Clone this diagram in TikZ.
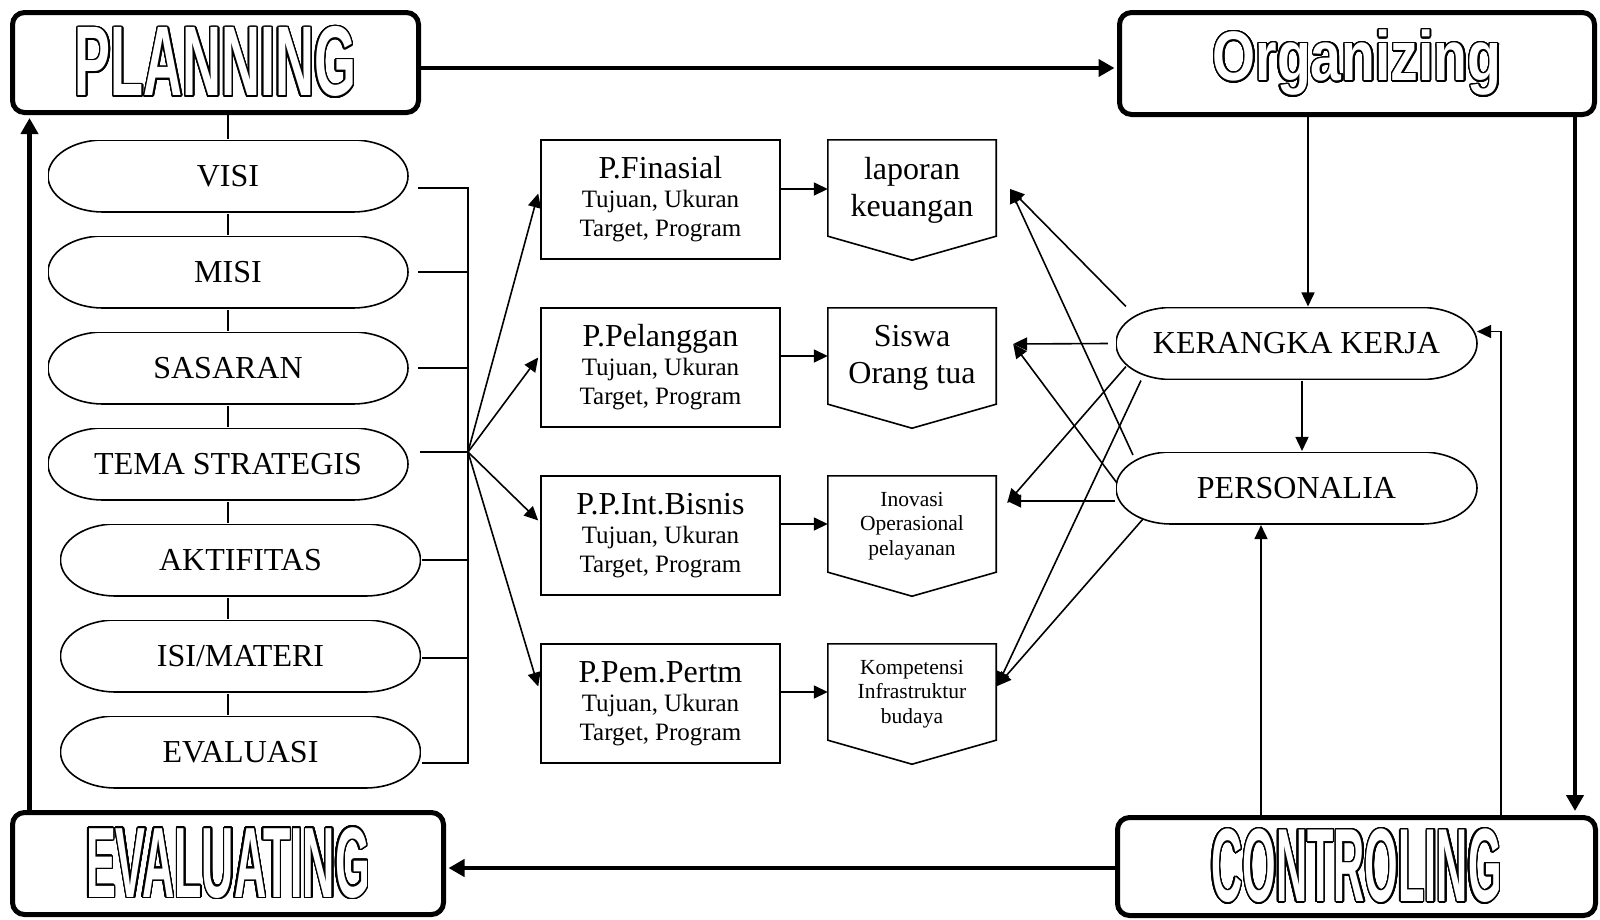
\documentclass[tikz,border=0pt]{standalone}
\usepackage{fontspec}
\setmainfont{Liberation Serif}
\newfontfamily\titlefont{Liberation Sans}
\usepackage{graphicx}
\usepackage{contour}
\contourlength{1.5pt}
\contournumber{32}
\usetikzlibrary{arrows.meta,calc}
\pgfdeclarelayer{background}
\pgfsetlayers{background,main}
\newcommand\ttl[3]{{\color{white}\contour{black}{\scalebox{#2}[1]{\fontsize{#1}{#1}\selectfont\titlefont\bfseries #3}}}}
\begin{document}
\begin{tikzpicture}[x=1pt,y=-1pt,
  thinline/.style={line width=1.6pt},
  thinarrow/.style={line width=1.6pt,-{Triangle[length=14pt,width=13pt]}},
  thickarrow/.style={line width=4.5pt,-{Triangle[length=16pt,width=17pt]}},
  titlebox/.style={draw,line width=5pt,rounded corners=12pt,inner sep=0pt},
  stadium/.style={minimum width=#1,minimum height=74pt,inner sep=0pt,draw=white,line width=0.1pt,
    font=\fontsize{32}{32}\selectfont,
    path picture={\draw[draw=black,line width=1.6pt,fill=white]
      ($(path picture bounding box.north west)+(56,1)$) -- ($(path picture bounding box.north east)+(-56,1)$)
      arc[start angle=90,end angle=-90,x radius=55pt,y radius=36pt]
      -- ($(path picture bounding box.south west)+(56,-1)$)
      arc[start angle=270,end angle=90,x radius=55pt,y radius=36pt] -- cycle;}},
  pbox/.style={draw,line width=1.6pt,minimum width=239pt,minimum height=119pt,inner sep=0pt,align=center,font=\fontsize{25}{29}\selectfont},
  pent/.style={minimum width=168pt,minimum height=96pt,inner sep=0pt,align=center},
  bigtext/.style={font=\fontsize{32}{37}\selectfont},
  smalltext/.style={font=\fontsize{21.5}{24.5}\selectfont}
]
\useasboundingbox (0,0) rectangle (1600,919);

% title boxes
\node[titlebox,minimum width=406pt,minimum height=100pt] (plan) at (215.5,62.5) {\ttl{99}{0.545}{PLANNING}};
\node[titlebox,minimum width=475pt,minimum height=102pt] (org) at (1357,63.5) {\ttl{70}{0.79}{Organizing}};
\node[titlebox,minimum width=431pt,minimum height=102pt] (evg) at (228,863.5) {\ttl{100}{0.447}{EVALUATING}};
\node[titlebox,minimum width=478pt,minimum height=98pt] (con) at (1356.5,866.5) {\ttl{104}{0.415}{CONTROLING}};

% left ovals
\node[stadium=362pt] (visi) at (228,176) {VISI};
\node[stadium=362pt] (misi) at (228,272) {MISI};
\node[stadium=362pt] (sas) at (228,368) {SASARAN};
\node[stadium=362pt] (tema) at (228,464) {TEMA STRATEGIS};
\node[stadium=362pt] (akt) at (240.5,560) {AKTIFITAS};
\node[stadium=362pt] (isi) at (240.5,656) {ISI/MATERI};
\node[stadium=362pt] (eva) at (240.5,752) {EVALUASI};

\begin{pgfonlayer}{background}
\draw[thinline] (visi.north |- plan.south) -- (visi.north |- eva.north);
\end{pgfonlayer}

% bus
\coordinate (fan) at (468,452);
\draw[thinline] ($(visi.east)+(9,12)$) -| (fan);
\draw[thinline] ($(misi.east)+(9,0)$) -| (fan);
\draw[thinline] ($(sas.east)+(9,0)$) -| (fan);
\draw[thinline] ($(tema.east)+(11,-12)$) -| (fan);
\draw[thinline] (akt.east) -| (fan);
\draw[thinline] ($(isi.east)+(0,2)$) -| (fan);
\draw[thinline] ($(eva.east)+(0,11)$) -| (fan);

% P boxes
\node[pbox] (pfin) at (660.5,199.5) {{\fontsize{32}{32}\selectfont P.Finasial}\\Tujuan, Ukuran\\Target, Program};
\node[pbox] (ppel) at (660.5,367.5) {{\fontsize{32}{32}\selectfont P.Pelanggan}\\Tujuan, Ukuran\\Target, Program};
\node[pbox] (pint) at (660.5,535.5) {{\fontsize{32}{32}\selectfont P.P.Int.Bisnis}\\Tujuan, Ukuran\\Target, Program};
\node[pbox] (ppem) at (660.5,703.5) {{\fontsize{32}{32}\selectfont P.Pem.Pertm}\\Tujuan, Ukuran\\Target, Program};

\draw[thinarrow] (fan) -- ($(pfin.west)+(-2,-6)$);
\draw[thinarrow] (fan) -- ($(ppel.west)+(-2,-10)$);
\draw[thinarrow] (fan) -- ($(pint.west)+(-2,-15)$);
\draw[thinarrow] (fan) -- ($(ppem.west)+(-2,-17)$);

% pentagons
\node[pent,bigtext] (lap) at (912,190) {laporan\\keuangan};
\node[pent,bigtext] (sis) at (912,358) {Siswa\\Orang tua};
\node[pent,smalltext] (ino) at (912,526) {Inovasi\\Operasional\\pelayanan};
\node[pent,smalltext] (kom) at (912,694) {Kompetensi\\Infrastruktur\\budaya};
\draw[thinline] ($(lap.north west)+(0,-2)$) -- ($(lap.north east)+(0,-2)$) -- ($(lap.south east)+(0,-2)$) -- ($(lap.south)+(0,22)$) -- ($(lap.south west)+(0,-2)$) -- cycle;
\draw[thinline] ($(sis.north west)+(0,-2)$) -- ($(sis.north east)+(0,-2)$) -- ($(sis.south east)+(0,-2)$) -- ($(sis.south)+(0,22)$) -- ($(sis.south west)+(0,-2)$) -- cycle;
\draw[thinline] ($(ino.north west)+(0,-2)$) -- ($(ino.north east)+(0,-2)$) -- ($(ino.south east)+(0,-2)$) -- ($(ino.south)+(0,22)$) -- ($(ino.south west)+(0,-2)$) -- cycle;
\draw[thinline] ($(kom.north west)+(0,-2)$) -- ($(kom.north east)+(0,-2)$) -- ($(kom.south east)+(0,-2)$) -- ($(kom.south)+(0,22)$) -- ($(kom.south west)+(0,-2)$) -- cycle;

\draw[thinarrow] ($(pfin.east |- lap.west)+(0,-1)$) -- ($(lap.west)+(0,-1)$);
\draw[thinarrow] ($(ppel.east |- sis.west)+(0,-2)$) -- ($(sis.west)+(0,-2)$);
\draw[thinarrow] ($(pint.east |- ino.west)+(0,-2)$) -- ($(ino.west)+(0,-2)$);
\draw[thinarrow] ($(ppem.east |- kom.west)+(0,-2)$) -- ($(kom.west)+(0,-2)$);

% right ovals
\node[stadium=363pt] (ker) at (1296.5,343.5) {KERANGKA KERJA};
\node[stadium=363pt] (per) at (1296.5,488) {PERSONALIA};

% cross arrows
\draw[thinarrow] ($(ker.north west)+(11,0)$) -- ($(lap.east)+(14,-1)$);
\draw[thinarrow] ($(per.north west)+(18,4)$) -- ($(lap.east)+(14,-1)$);
\draw[thinarrow] ($(ker.west)+(-7,0)$) -- ($(sis.east)+(17,-14)$);
\draw[thinarrow] ($(per.west)+(2,-5)$) -- ($(sis.east)+(17,-14)$);
\draw[thinarrow] ($(ker.south west)+(11,-14)$) -- ($(ino.east)+(11,-23)$);
\draw[thinarrow] ($(per.west)+(0,13)$) -- ($(ino.east)+(11,-25)$);
\draw[thinarrow] ($(ker.south west)+(26,0)$) -- ($(kom.east)+(1,-8)$);
\draw[thinarrow] ($(per.south west)+(28,-6)$) -- ($(kom.east)+(1,-8)$);

% right side vertical arrows
\coordinate (ok) at ($(ker.north)+(11.5,0)$);
\draw[thinarrow] (ok |- org.south) -- (ok);
\draw[thinarrow] ($(ker.south)+(5.5,0)$) -- ($(per.north)+(5.5,0)$);
\coordinate (cp) at ($(per.south)+(-35.5,0)$);
\draw[thinarrow] (cp |- con.north) -- (cp);
\coordinate (ck) at ($(ker.east)+(23,-12)$);
\draw[thinarrow] (ck |- con.north) -- (ck) -- ($(ker.east)+(-1,-12)$);

% thick cycle arrows
\draw[thickarrow] ($(plan.east)+(0,5.5)$) -- ($(org.west)+(-2.5,4.5)$);
\coordinate (oc) at ($(org.south east)+(-22,0)$);
\draw[thickarrow] (oc) -- ($(oc |- con.north)+(0,-4)$);
\draw[thickarrow] ($(con.west)+(0,1.5)$) -- ($(evg.east)+(2.5,4.5)$);
\coordinate (ep) at ($(evg.north west)+(19.5,0)$);
\draw[thickarrow] (ep) -- ($(ep |- plan.south)+(0,3)$);
\end{tikzpicture}
\end{document}
